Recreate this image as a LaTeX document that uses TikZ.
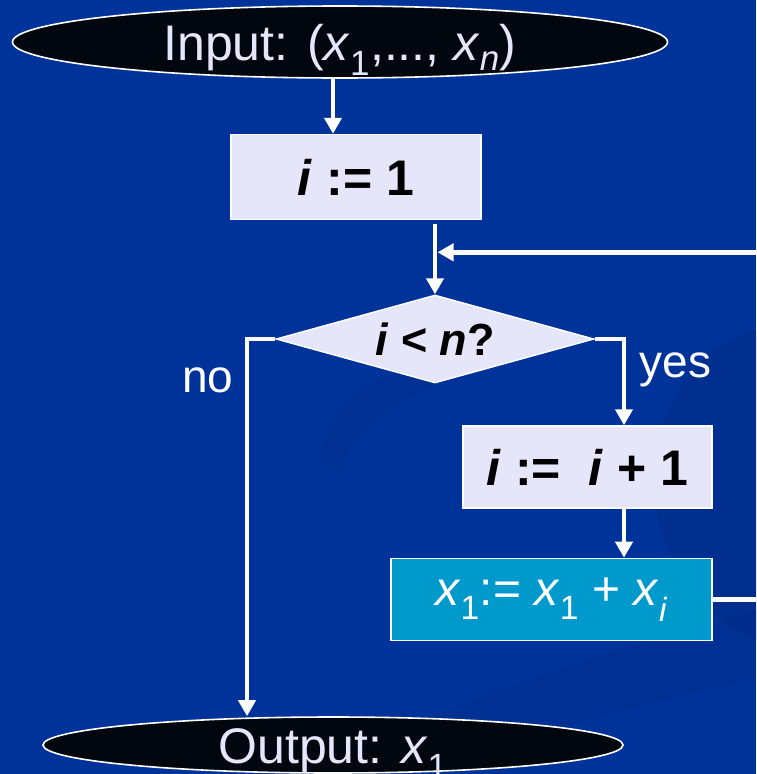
\documentclass[tikz,border=0pt]{standalone}
\usepackage{fontspec}
\setmainfont{Liberation Sans}
\usetikzlibrary{arrows.meta, positioning, shapes.geometric}
\definecolor{fcbg}{HTML}{003399}
\definecolor{fcshade}{HTML}{002C88}
\definecolor{fclav}{HTML}{E6E6FA}
\definecolor{fcteal}{HTML}{0099CC}
\definecolor{fcink}{HTML}{01060F}

\newcommand{\xsub}[1]{\textit{x}\textsubscript{#1}}

\begin{document}
\begin{tikzpicture}[x=1pt, y=-1pt,
    term/.style={ellipse, draw=white, line width=1.6pt, fill=fcink, text=fclav,
                 inner sep=0pt, text height=0.72*#1, text depth=0pt,
                 font=\fontsize{#1}{#1}\selectfont},
    stepbox/.style={rectangle, draw=white, line width=1.4pt, fill=#1, inner sep=0pt},
    heavy/.style={font=\fontsize{50}{56}\selectfont\bfseries},
    plain/.style={font=\fontsize{48}{54}\selectfont},
    test/.style={diamond, aspect=3.6, draw=white, line width=1.4pt, fill=fclav, inner sep=0pt,
                 font=\fontsize{45}{50}\selectfont\bfseries},
    flow/.style={-{Triangle[width=17pt,length=16pt]}, line width=4.8pt, white},
    tag/.style={text=white, font=\fontsize{46}{52}\selectfont}
  ]
    \useasboundingbox (0,0) rectangle (756,774);
    \fill[fcbg] (0,0) rectangle (756,774);
    % faint swirls of the slide background
    \fill[fcshade, opacity=0.5] (756,330) .. controls (640,360) and (600,560) .. (756,640) -- cycle;
    \fill[fcshade, opacity=0.4] (300,774) .. controls (480,690) and (640,640) .. (756,610)
        -- (756,680) .. controls (640,700) and (520,740) .. (430,774) -- cycle;
    \fill[fcshade, opacity=0.4] (320,460) .. controls (330,380) and (420,350) .. (520,360)
        .. controls (430,380) and (360,410) .. (340,470) -- cycle;

    \node[term=50, minimum width=655pt, minimum height=72pt] (in) at (340,42)
        {Input: (\xsub{1},..., \xsub{\textit{n}})};
    \node[stepbox=fclav, heavy, minimum width=250pt, minimum height=85pt] (init) at (356,177)
        {\textit{i} := 1};
    \node[test, minimum width=318pt, minimum height=88pt] (check) at (435,339)
        {\textit{i} < \textit{n}?};
    \node[stepbox=fclav, heavy, minimum width=249pt, minimum height=82pt] (incr) at (587.5,467)
        {\textit{i} :=\ \ \textit{i} + 1};
    \node[stepbox=fcteal, plain, text=white, minimum width=321pt, minimum height=82pt,
          below=49pt of incr.south east, anchor=north east] (acc)
        {\xsub{1}:= \xsub{1} + \xsub{\textit{i}}};
    \node[term=50, minimum width=580pt, minimum height=56pt] (out) at (333,745)
        {Output: \xsub{1}};
    \coordinate[above=42pt of check.north] (merge);

    \draw[flow] ([xshift=-7pt]in.south) -- ([xshift=-23pt]init.north);
    \draw[flow] ([yshift=-4pt]init.south -| check.north) -- (check.north);
    \draw[flow] (check.east) -| node[tag, pos=0.68, right=10pt] {yes} ([xshift=36.5pt]incr.north);
    \draw[flow] (check.west) -| node[tag, pos=0.555, left=8pt] {no} ([xshift=-86pt]out.north);
    \draw[flow] ([xshift=36.5pt]incr.south) -- ([xshift=36.5pt]incr.south |- acc.north);
    \draw[flow] (acc.east) -- ++(60,0) |- ([xshift=2.5pt]merge);
\end{tikzpicture}
\end{document}
